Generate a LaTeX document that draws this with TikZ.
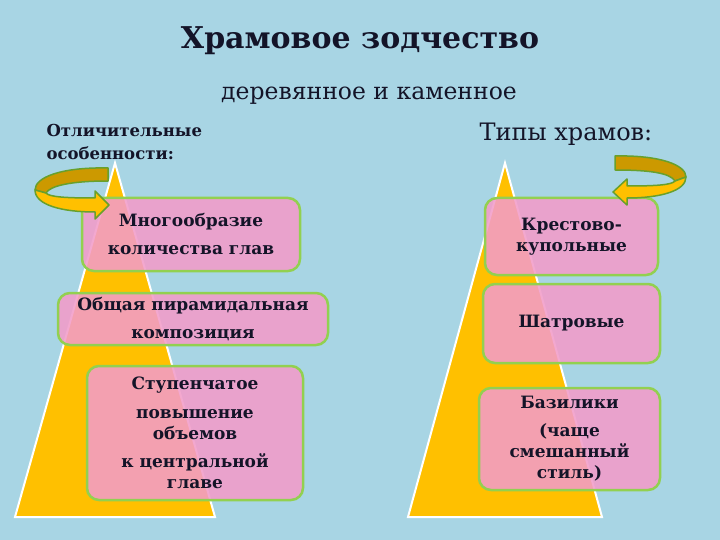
\documentclass[tikz,border=0pt]{standalone}
\usepackage{fontspec}
\setmainfont{DejaVu Serif}
\definecolor{bgc}{RGB}{168,213,228}
\definecolor{tri}{RGB}{255,192,0}
\definecolor{boxpink}{RGB}{242,156,201}
\definecolor{boxgreen}{RGB}{146,208,80}
\definecolor{txt}{RGB}{20,20,40}
\definecolor{gold}{RGB}{204,153,0}
\definecolor{arrline}{RGB}{104,160,44}
\tikzset{
  box/.style={draw=boxgreen, line width=2.5pt, fill=boxpink, fill opacity=0.88,
    text opacity=1, rounded corners=12pt, align=center, text=txt, inner sep=0pt,
    font=\fontsize{17}{21}\selectfont\bfseries},
  tribox/.style={fill=tri, draw=white, line width=2pt},
  backband/.style={fill=gold, draw=arrline, line width=1.5pt, line join=round},
  frontband/.style={fill=tri, draw=arrline, line width=1.5pt, line join=round},
}
\begin{document}
\begin{tikzpicture}[x=1pt,y=-1pt]
\fill[bgc] (0,0) rectangle (720,540);
\useasboundingbox (0,0) rectangle (720,540);
% triangles
\draw[tribox] (115,163) -- (215,517) -- (15,517) -- cycle;
\draw[tribox] (505,163) -- (602,517) -- (408,517) -- cycle;
% titles
\node[text=txt, font=\fontsize{30}{36}\selectfont\bfseries] (title) at (360,41) {Храмовое зодчество};
\node[text=txt, font=\fontsize{23.5}{28}\selectfont] (sub) at (369,96) {деревянное и каменное};
\node[text=txt, anchor=west, align=left, font=\fontsize{16.5}{23}\selectfont\bfseries] (feat) at (43,142) {Отличительные\\особенности:};
\node[text=txt, font=\fontsize{24}{28}\selectfont] (types) at (566,134) {Типы храмов:};
% left boxes
\node[box, minimum width=218pt, minimum height=73pt] (l1) at (191,234.5) {Многообразие\\[7pt]количества глав};
\node[box, minimum width=270pt, minimum height=52pt] (l2) at (193,319) {Общая пирамидальная\\[7pt]композиция};
\node[box, minimum width=216pt, minimum height=134pt] (l3) at (195,433) {Ступенчатое\\[8pt]повышение\\объемов\\[7pt]к центральной\\главе};
% right boxes
\node[box, minimum width=173pt, minimum height=77pt] (r1) at (571.5,236.5) {Крестово-\\купольные};
\node[box, minimum width=177pt, minimum height=79pt] (r2) at (571.5,323.5) {Шатровые};
\node[box, minimum width=181pt, minimum height=102pt] (r3) at (569.5,439) {Базилики\\[7pt](чаще\\смешанный\\стиль)};
% left curved arrow
\draw[backband] (108,168) .. controls (62,167) and (35,177) .. (35,190) -- (46,193) .. controls (50,186) and (70,181) .. (108,181) -- cycle;
\draw[frontband] (35,190) .. controls (35,205) and (62,212) .. (95,212) -- (95,219) -- (109,205) -- (95,191) -- (95,198) .. controls (66,198) and (49,197) .. (46,193) -- cycle;
% right curved arrow
\draw[backband] (615,156) .. controls (660,155) and (686,165) .. (686,177) -- (675,181) .. controls (670,173) and (650,170) .. (615,170) -- cycle;
\draw[frontband] (686,177) .. controls (686,191) and (660,198) .. (627,198) -- (627,205) -- (613,192) -- (627,179) -- (627,186) .. controls (655,186) and (672,185) .. (675,181) -- cycle;
\end{tikzpicture}
\end{document}
